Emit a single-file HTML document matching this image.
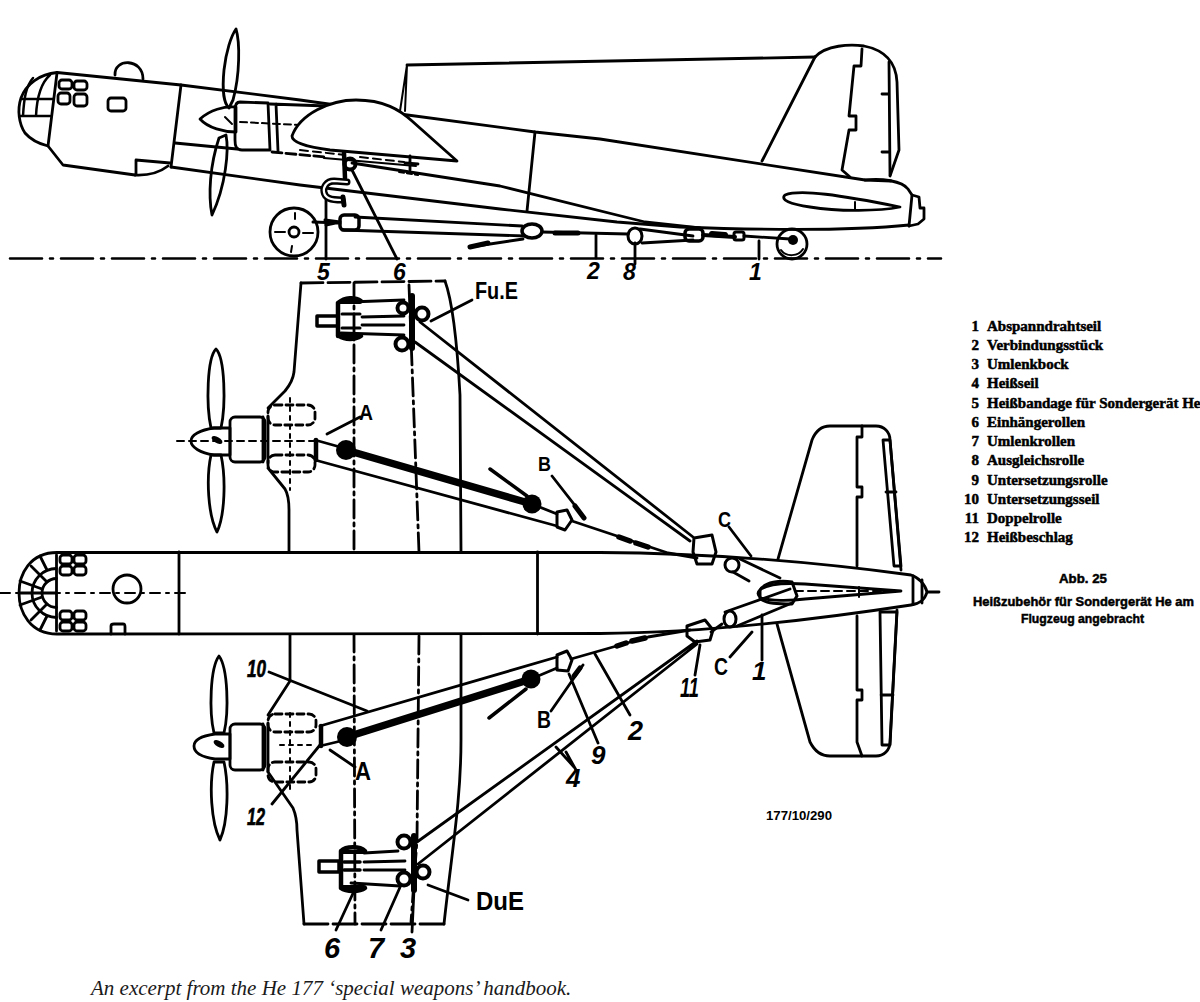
<!DOCTYPE html>
<html><head><meta charset="utf-8">
<style>
html,body{margin:0;padding:0;background:#fff;width:1200px;height:1002px;overflow:hidden}
svg{position:absolute;left:0;top:0;display:block}
.d{fill:none;stroke:#000;stroke-width:2.8;stroke-linejoin:round;stroke-linecap:round}
.t{stroke-width:2}
.k{fill:#000;stroke:none}
.lb{font-family:"Liberation Sans",sans-serif;font-style:italic;font-weight:bold;fill:#000}
.lt{font-family:"Liberation Sans",sans-serif;font-weight:bold;fill:#000}
.lg{font-family:"Liberation Serif",serif;font-weight:bold;font-size:15px;fill:#000}
.cap{position:absolute;left:91px;top:975.5px;font-family:"Liberation Serif",serif;font-style:italic;font-size:21px;color:#1a1a1a;white-space:nowrap}
</style></head><body>
<svg width="1200" height="1002" viewBox="0 0 1200 1002">
<g class="d">
<!-- ===== SIDE VIEW ===== -->
<path d="M57,72.5 L181,85 L300,100 L400,114 L535,132 L600,139 L865,180 L891,181"/>
<path d="M57,72.5 C40,74 26,84 21,98 C17,110 19,124 25,133 C31,140 40,144 48,146 L63,165 L135,175"/>
<path d="M57,73 L48,146"/>
<path d="M22,99 L53,99 M20,116 L50,116 M50,75 C42,82 37,94 36,116 M33,78 C26,86 24,98 23,116" stroke-width="2.5"/>
<path d="M136,160 L136,175 M136,160 L170,163 M168,166 Q155,176 135,175"/>
<path d="M181,85 L171,167"/>
<path d="M171,167 L300,185 L500,209 L617,222 L680,227 C760,230 850,231 909,225"/>
<path d="M115,75 C114,58 143,58 143,79"/>
<rect x="59" y="80" width="13" height="9" rx="3"/>
<rect x="74" y="81" width="13" height="9" rx="3"/>
<rect x="58" y="93" width="12" height="11" rx="3"/>
<rect x="74" y="94" width="13" height="12" rx="3"/>
<rect x="108" y="98" width="18" height="13" rx="3"/>
<path d="M865,180 C882,178 902,181 908,189 L912,195 L909,226"/>
<path d="M912,195 L919,197 L920,208 L924,208 L924,219 L918,224 L909,226"/>
<path d="M175,143 L237,149"/>
<path d="M272,152 L325,157" stroke-dasharray="10 4"/>
<path d="M240,102 L268,103 L270,150 L242,150 C236,150 235,146 235,140 L235,110 C235,104 237,102 240,102 Z"/>
<path d="M276,104 L278,151 M270,104 L327,106" />
<path d="M240,122 L300,125" stroke-dasharray="7 4" class="t"/>
<path d="M236,29 C240,42 240,75 233,100 L229,108 C224,104 222,90 224,70 C226,52 231,36 236,29 Z"/>
<path d="M226,135 C229,150 226,185 212,215 C208,195 210,165 219,138 Z"/>
<path d="M200,119 C210,110 224,106 236,107 L236,132 C224,132 208,128 200,119 Z"/>
<path d="M225,117 L232,124" class="t"/>
<path fill="#fff" d="M292,136 C300,114 330,100 356,100 C384,100 400,110 412,121 L457,161 L330,150 C306,147 292,142 292,136 Z"/>
<path d="M300,150 L345,155 M360,157 L404,162" stroke-dasharray="8 5" class="t"/>
<path d="M410,156 L410,170 M405,163 L418,164" />
<path d="M407,65 L815,57"/>
<path d="M407,65 L400,111 M407,65 L405,111" class="t"/>
<path d="M815,57 C826,45 850,44 864,46 C884,50 896,62 897,82 L899,150 L890,176"/>
<path d="M815,57 L762,161"/>
<path d="M862,49 L861,66 L854,66 L849,116 L856,116 L856,130 L849,130 L842,170 L850,177"/>
<path d="M889,62 L890,175 M882,94 L889,94 M882,152 L889,152"/>
<path d="M785,195 C800,189 840,195 900,207 C880,211 840,212 810,207 C790,204 780,200 785,195 Z"/>
<path d="M855,202 L855,210" class="t"/>
<path d="M535,132 L527,211"/>
<circle cx="294" cy="232" r="24"/>
<circle cx="294" cy="232" r="5"/>
<path d="M275,232 L285,232 M303,233 L313,233 M295,213 L295,219 M292,246 L291,252" class="t"/>
<circle cx="792" cy="244" r="15"/>
<path d="M781,250 C786,257 798,257 803,249" class="t"/>
<path d="M10,258.5 L941,258.5" stroke-dasharray="32 8 3 8" stroke-width="2.6"/>
<path d="M352,163 L500,186 L645,222 L700,228"/>
<path d="M352,170 L397,259"/>
<path d="M326,199 L326,259"/>
<path d="M596,235 L596,258 M635,243 L635,264 M759,241 L759,259"/>
<path d="M324,158 L416,166" class="t"/>
<path d="M399,172 L418,175" stroke-dasharray="5 3" class="t"/>
<path d="M344,153 L345,178" stroke-width="4.5"/>
<circle cx="350" cy="164" r="5.5" stroke-width="4"/>
<path d="M347,182 L334,181 C326,181 323,188 324,192 C325,198 330,200 342,200" stroke-width="7"/>
<path d="M347,182 L334,181 C326,181 323,188 324,192 C325,198 330,200 342,200" stroke="#fff" stroke-width="2.2"/>
<path d="M343,197 L344,205" stroke-width="5"/>
<path d="M313,222 L340,223 M325,220 L340,222 L326,225" stroke-width="3"/>
<rect x="340" y="215" width="19" height="15" rx="4" stroke-width="3.5"/>
<path d="M355,217 L522,226 M342,230 L525,236"/>
<ellipse cx="532" cy="231" rx="10" ry="7" stroke-width="3.5"/>
<path d="M542,232 L628,234"/>
<path d="M555,233 L578,233" stroke-width="5"/>
<ellipse cx="635" cy="236" rx="7" ry="8" stroke-width="3"/>
<path d="M640,229 L693,236 M642,243 L693,240"/>
<path d="M523,239 L470,247"/><path d="M470,247 L488,243" stroke-width="5"/>
<rect x="685" y="229" width="18" height="12" rx="4" stroke-width="3.5"/>
<path d="M703,235 L735,237" stroke-width="4"/>
<path d="M712,234 L725,235" stroke-width="6"/>
<rect x="734" y="232" width="10" height="8" rx="2" stroke-width="3"/>
<path d="M744,236 L790,239"/>
<circle class="k" cx="793" cy="240" r="5" />
</g>
<g class="lb" font-size="23">
<text x="317" y="280">5</text>
<text x="393" y="280">6</text>
<text x="587" y="279">2</text>
<text x="623" y="280">8</text>
<text x="749" y="280">1</text>
</g>
<g class="d">
<!-- ===== PLAN VIEW ===== -->
<path d="M301,283 L445,281" stroke-dasharray="22 5"/>
<path d="M301,283 L294,372 C293,380 290,385 285,391 L268,408"/>
<path d="M445,281 C452,300 457,340 460,395 L461,552"/>
<path d="M268,468 L285,489 C288,494 289,500 289,510 L289,552"/>
<path d="M290,634 L290,681 L268,715"/>
<path d="M268,772 L293,808 C296,815 297,822 297,830 L304,924 M444,924 C452,850 461,800 461,740 L461,634"/>
<path d="M304,924 L444,924" stroke-dasharray="24 5"/>
<path d="M354,283 L354,552 M354,634 L355,924" stroke-dasharray="18 5 3 5"/>
<path d="M409,285 L419,552 M419,636 L417,840 L411,922" stroke-dasharray="18 5 3 5"/>
<path d="M290,398 L290,490 M290,713 L290,790" stroke-dasharray="4 5" class="t"/>
<!-- upper nacelle -->
<path d="M230,428 L214,428 C200,430 191,435 191,441 C191,447 200,453 214,455 L230,455 Z"/>
<rect x="230" y="417" width="35" height="45" rx="5"/>
<path d="M263,417 L263,462 M268,416 L268,463"/>
<rect x="268" y="405" width="47" height="20" rx="7" stroke-dasharray="7 4"/>
<rect x="268" y="455" width="47" height="17" rx="7" stroke-dasharray="7 4"/>
<path d="M177,441 L315,441" stroke-dasharray="7 5" class="t"/>
<path d="M216,349 C225,358 226,405 221,428 L211,428 C206,405 207,358 216,349 Z"/>
<path d="M211,455 L221,455 C226,478 225,515 217,532 C208,515 206,478 211,455 Z"/>
<ellipse class="k" cx="217" cy="440" rx="6" ry="3" transform="rotate(30 217 440)"/>
<!-- lower nacelle -->
<path d="M230,734 L215,734 C201,736 194,740 194,746 C194,752 201,757 215,759 L230,759 Z"/>
<rect x="230" y="724" width="35" height="46" rx="5"/>
<path d="M263,724 L263,770 M268,723 L268,771"/>
<rect x="268" y="714" width="48" height="18" rx="7" stroke-dasharray="7 4"/>
<rect x="268" y="762" width="48" height="20" rx="7" stroke-dasharray="7 4"/>
<path d="M280,745 L316,745" stroke-dasharray="4 5" class="t"/>
<path d="M219,656 C228,668 229,712 224,733 L214,733 C209,712 210,668 219,656 Z"/>
<path d="M214,762 L224,762 C229,785 228,822 220,840 C211,822 209,785 214,762 Z"/>
<ellipse class="k" cx="219" cy="744" rx="6" ry="3" transform="rotate(30 219 744)"/>
<!-- fuselage plan -->
<path fill="#fff" d="M57,552.5 L600,552.5 C700,553 800,560 911,575 C918,577 925,584 927,592 C925,600 918,604 911,605 C800,622 700,633 600,633.5 L57,634 C30,634 19,612 19,593 C19,574 30,552.5 57,552.5 Z"/>
<path d="M179,552 L179,634 M537.5,552 L537.5,634 M913,576 L913,604 M922,580 L922,603"/>
<path d="M927,592 L939,592"/>
<path d="M56.5,555 L56.5,631"/>
<path d="M56.5,568.5 A24.5,24.5 0 0 0 56.5,617.5 M56.5,578.5 A14.5,14.5 0 0 0 56.5,607.5" />
<path d="M19,593 L56,593 M20,581 L42,589 M20,605 L42,597 M31,566 L47,582 M31,620 L47,604 M40,556 L47,570 M40,630 L47,616"/>
<circle cx="127" cy="589" r="14"/>
<path d="M111,634 L111,626 C111,624 113,624 114,624 L123,624 C125,624 125,625 125,627 L125,634"/>
<rect x="60" y="555" width="12" height="9" rx="3"/>
<rect x="74" y="555" width="12" height="9" rx="3"/>
<rect x="60" y="566" width="12" height="9" rx="3"/>
<rect x="74" y="566" width="12" height="9" rx="3"/>
<rect x="60" y="611" width="12" height="9" rx="3"/>
<rect x="74" y="611" width="12" height="9" rx="3"/>
<rect x="60" y="622" width="12" height="9" rx="3"/>
<rect x="74" y="622" width="12" height="9" rx="3"/>
<path d="M0,593 L190,593" stroke-dasharray="10 6 3 6" class="t"/>
<!-- fin plan wedge -->
<path d="M761,589 C770,583 790,583 805,584 L901,591 L805,599 C790,601 770,601 761,598 C757,595 757,592 761,589 Z"/>
<path d="M795,591 L895,591" stroke-dasharray="8 5" class="t"/>
<path d="M859,587 L859,597" class="t"/>
<!-- upper stabilizer -->
<path d="M778,559 L812,440 C816,430 822,426 830,426 L876,426 C884,426 890,432 890,440 L901,570"/>
<path d="M862,426 L862,437 L857,437 L857,487 L862,487 L862,497 L857,497 L857,566"/>
<path d="M883,440 L890,440 L901,566 L894,566 Z M886,492 L896,492"/>
<!-- lower stabilizer -->
<path d="M777,624 L810,742 C815,752 822,756 830,756 L876,756 C884,756 890,750 890,742 L897,610"/>
<path d="M857,616 L857,690 L862,690 L862,700 L857,700 L857,742 L862,756"/>
<path d="M880,612 L897,612 L890,745 L882,745 Z M881,695 L893,695"/>
<!-- upper attachment -->
<path d="M412,296 L412,348" stroke-width="6"/>
<circle cx="403" cy="308" r="5.5" stroke-width="4"/>
<circle cx="422" cy="314" r="6.5" stroke-width="4"/>
<circle cx="402" cy="344" r="6.5" stroke-width="4"/>
<path d="M350,302 L404,300 M341,333 L404,335 M362,317 L404,316 M362,325 L404,325"/>
<path d="M338,303 C345,297 355,297 361,301 M339,336 C345,340 355,340 361,336 M338,303 L338,336" stroke-width="4.5"/>
<path d="M340,302 L360,302 M341,336 L360,336" stroke-width="4"/>
<path d="M317,316 L338,316 L338,326 L317,326 Z" stroke-width="3.5"/>
<path d="M342,314 L360,314 M342,328 L360,328" stroke-width="3"/>
<path d="M420,322 L693,537 M415,342 L690,541"/>
<path d="M472,300 L431,321"/>
<!-- lower attachment -->
<path d="M414,836 L414,890" stroke-width="6"/>
<circle cx="404" cy="842" r="6.5" stroke-width="4"/>
<circle cx="423" cy="872" r="6.5" stroke-width="4"/>
<circle cx="404" cy="879" r="6.5" stroke-width="4"/>
<path d="M364,853 L398,851 M364,862 L405,861 M364,870 L405,870 M351,883 L400,886"/>
<path d="M341,851 C346,846 360,846 365,851 M341,888 C346,892 360,892 365,888 M341,851 L341,888" stroke-width="4.5"/>
<path d="M343,852 L364,852 M343,887 L364,887" stroke-width="4"/>
<path d="M344,862 L360,862 M344,870 L360,870" stroke-width="3.5"/>
<path d="M319,861 L339,861 L339,872 L319,872 Z" stroke-width="3.5"/>
<path d="M417,842 L697,641 M418,864 L697,644"/>
<path d="M468,900 L428,885"/>
<path d="M336,930 L355,889 M381,930 L401,885 M412,932 L414,889"/>
<!-- upper strut -->
<path d="M316,440 L316,460" stroke-width="4.5"/><path d="M315,440 L340,447 M315,460 L557,526"/>
<path d="M346,450 L532,504" stroke-width="7.5"/>
<circle class="k" cx="346" cy="450" r="10"/>
<circle class="k" cx="532" cy="504" r="9.5"/>
<path d="M532,504 L557,514"/>
<path d="M557,512 L567,510 L572,520 L565,530 L557,527 Z" stroke-width="3"/>
<path d="M572,521 L668,553 L697,558"/>
<path d="M619,537 L630,541 M636,543 L648,547" stroke-width="5.5"/>
<path d="M575,506 L584,518" stroke-width="5"/>
<path d="M490,469 L527,496" stroke-width="3.5"/>
<path d="M327,434 L360,417"/>
<path d="M552,476 L584,517"/>
<!-- lower strut -->
<path d="M321,726 L321,746" stroke-width="4.5"/><path d="M320,726 L557,657 M320,746 L345,740"/>
<path d="M347,737 L531,679" stroke-width="7.5"/>
<circle class="k" cx="347" cy="737" r="10"/>
<circle class="k" cx="531" cy="679" r="9.5"/>
<path d="M531,679 L557,668"/>
<path d="M557,655 L567,651 L572,660 L568,671 L557,670 Z" stroke-width="3"/>
<path d="M571,659 L648,637 L690,630"/>
<path d="M617,646 L626,643 M632,641 L645,638" stroke-width="5.5"/>
<path d="M574,676 L580,668" stroke-width="5"/>
<path d="M489,718 L526,689" stroke-width="3.5"/>
<path d="M269,672 L367,711 M272,804 L320,745 M330,750 L355,767"/>
<path d="M551,711 L583,665 M569,674 L598,743 M595,654 L630,715 M556,747 L574,767 M566,752 L576,770 M700,645 L695,675 M730,657 L752,632 M762,615 L762,660 M729,527 L751,556"/>
<!-- fuselage pulleys / rear attachment -->
<path d="M694,538 L712,535 L716,552 L712,564 L697,564 L693,552 Z" stroke-width="3"/>
<circle cx="732" cy="565" r="7" stroke-width="3"/>
<path d="M740,559 L780,578 M733,572 L749,581"/>
<path d="M760,590 C765,582 780,580 792,582 L797,596 L792,604 C780,604 765,604 760,598 Z" stroke-width="3"/>
<path d="M725,612 L790,589 M737,626 L792,603"/>
<ellipse cx="730" cy="619" rx="6" ry="8" stroke-width="3"/>
<path d="M687,626 L705,620 L713,630 L710,640 L695,642 L687,636 Z" stroke-width="3"/>
<path d="M711,632 L722,624"/>
</g>
<g class="lt">
<text x="475" y="299" font-size="23" textLength="43" lengthAdjust="spacingAndGlyphs">Fu.E</text>
<text x="476" y="910" font-size="25" textLength="48" lengthAdjust="spacingAndGlyphs">DuE</text>
<text x="359" y="420" font-size="22" textLength="14" lengthAdjust="spacingAndGlyphs">A</text>
<text x="355" y="780" font-size="25" textLength="16" lengthAdjust="spacingAndGlyphs">A</text>
<text x="538" y="471" font-size="20" textLength="13" lengthAdjust="spacingAndGlyphs">B</text>
<text x="537" y="728" font-size="23" textLength="14" lengthAdjust="spacingAndGlyphs">B</text>
<text x="718" y="527" font-size="22" textLength="13" lengthAdjust="spacingAndGlyphs">C</text>
<text x="714" y="675" font-size="24" textLength="14" lengthAdjust="spacingAndGlyphs">C</text>
</g>
<g class="lb">
<text x="247" y="677" font-size="24" textLength="19" lengthAdjust="spacingAndGlyphs" stroke="#000" stroke-width="0.7">10</text>
<text x="247" y="825" font-size="24" textLength="18" lengthAdjust="spacingAndGlyphs" stroke="#000" stroke-width="0.7">12</text>
<text x="680" y="697" font-size="27" textLength="19" lengthAdjust="spacingAndGlyphs">11</text>
<text x="752" y="680" font-size="26">1</text>
<text x="628" y="740" font-size="27">2</text>
<text x="591" y="764" font-size="26">9</text>
<text x="566" y="787" font-size="26">4</text>
<text x="324" y="958" font-size="29">6</text>
<text x="368" y="958" font-size="29">7</text>
<text x="400" y="958" font-size="29">3</text>
</g>
<text class="lt" x="766" y="820" font-size="12" textLength="66" lengthAdjust="spacingAndGlyphs">177/10/290</text>
<g class="lg" stroke="#000" stroke-width="0.5">
<text x="979" y="331" text-anchor="end">1</text><text x="987" y="331">Abspanndrahtseil</text>
<text x="979" y="350" text-anchor="end">2</text><text x="987" y="350">Verbindungsstück</text>
<text x="979" y="369" text-anchor="end">3</text><text x="987" y="369">Umlenkbock</text>
<text x="979" y="388" text-anchor="end">4</text><text x="987" y="388">Heißseil</text>
<text x="979" y="408" text-anchor="end">5</text><text x="987" y="408">Heißbandage für Sondergerät He</text>
<text x="979" y="427" text-anchor="end">6</text><text x="987" y="427">Einhängerollen</text>
<text x="979" y="446" text-anchor="end">7</text><text x="987" y="446">Umlenkrollen</text>
<text x="979" y="465" text-anchor="end">8</text><text x="987" y="465">Ausgleichsrolle</text>
<text x="979" y="485" text-anchor="end">9</text><text x="987" y="485">Untersetzungsrolle</text>
<text x="979" y="504" text-anchor="end">10</text><text x="987" y="504">Untersetzungsseil</text>
<text x="979" y="523" text-anchor="end">11</text><text x="987" y="523">Doppelrolle</text>
<text x="979" y="542" text-anchor="end">12</text><text x="987" y="542">Heißbeschlag</text>
</g>
<g class="lt" font-size="13" stroke="#000" stroke-width="0.5">
<text x="1059" y="583" textLength="48" lengthAdjust="spacingAndGlyphs">Abb. 25</text>
<text x="973" y="606" textLength="221" lengthAdjust="spacingAndGlyphs">Heißzubehör für Sondergerät He am</text>
<text x="1021" y="623" textLength="123" lengthAdjust="spacingAndGlyphs">Flugzeug angebracht</text>
</g>
</svg>
<div class="cap">An excerpt from the He 177 ‘special weapons’ handbook.</div>
</body></html>
